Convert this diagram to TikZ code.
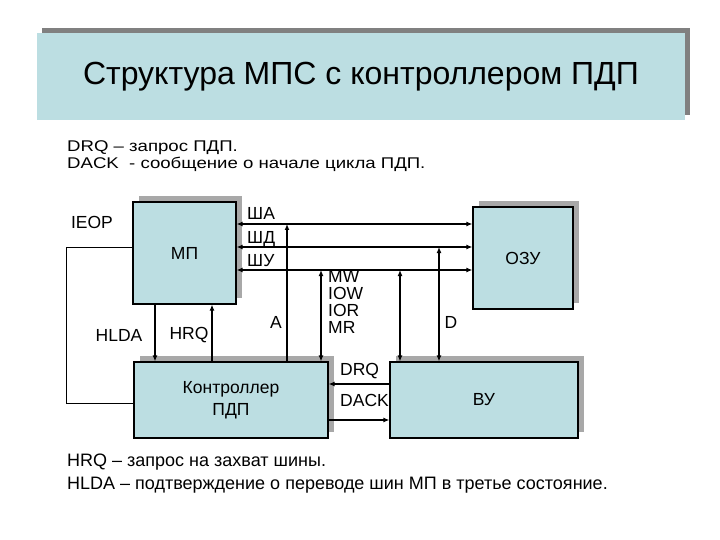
\documentclass[tikz,border=0pt]{standalone}
\usepackage{fontspec}
\setmainfont{Liberation Sans}
\newfontfamily\widefont[FakeStretch=1.2]{Liberation Sans}
\usepackage{tikz}
\usetikzlibrary{arrows.meta}
\usetikzlibrary{shadows}
\definecolor{boxblue}{HTML}{BCDEE2}
\definecolor{titleshade}{HTML}{808080}
\definecolor{boxshade}{HTML}{A8A8A8}
\tikzset{
	>={Latex[length=6pt,width=5pt]},
	titlebox/.style={fill=boxblue, minimum width=648pt, minimum height=87pt,
		general shadow={fill=titleshade, shadow xshift=5pt, shadow yshift=5pt},
		font=\fontsize{32}{36}\selectfont},
	block/.style={draw=black, line width=1.2pt, fill=boxblue,
		general shadow={fill=boxshade, shadow xshift=6pt, shadow yshift=6pt},
		font=\fontsize{17.5}{22}\selectfont, align=center},
	lbl/.style={inner sep=0pt, font=\fontsize{17.5}{17}\selectfont},
	note/.style={inner sep=0pt, anchor=west, font=\fontsize{18}{21}\selectfont},
	bus/.style={line width=1.3pt, <->},
	sig/.style={line width=1.6pt},
	wire/.style={line width=1pt}
}

\begin{document}
\begin{tikzpicture}[x=1pt, y=-1pt]
\useasboundingbox (0,0) rectangle (720,540);
\node[titlebox] (title) at (361,77) {Структура МПС с контроллером ПДП};
\node[note, font=\fontsize{15.5}{16}\widefont] (ndrq) at (67,148) {DRQ – запрос ПДП.};
\node[note, font=\fontsize{15.5}{16}\widefont] (ndack) at (67,164) {DACK\ \ - сообщение о начале цикла ПДП.};

\node[block, minimum width=103pt, minimum height=102pt] (mp) at (184.5,253) {МП};
\node[block, minimum width=100pt, minimum height=102pt] (ozu) at (523,258) {ОЗУ};
\node[block, minimum width=194pt, minimum height=76pt] (ctrl) at (231,400) {Контроллер\\ПДП};
\node[block, minimum width=188pt, minimum height=76pt] (vu) at (484,400) {ВУ};

\coordinate (sha) at (0,224);
\coordinate (shd) at (0,247);
\coordinate (shu) at (0,270);
\coordinate (xhlda) at (155,0);
\coordinate (xhrq) at (212,0);
\coordinate (xa) at (287,0);
\coordinate (xmw) at (321,0);
\coordinate (xvu) at (400,0);
\coordinate (xd) at (439,0);
\coordinate (drq) at (0,384);
\coordinate (dack) at (0,420);
\coordinate (ieop) at (66,403);

\draw[bus] (mp.east |- sha) -- (ozu.west |- sha);
\draw[bus] (mp.east |- shd) -- (ozu.west |- shd);
\draw[bus, line width=2.6pt] (mp.east |- shu) -- (ozu.west |- shu);

\draw[sig, ->] (mp.south -| xhlda) -- (ctrl.north -| xhlda);
\draw[sig, line width=1.2pt, ->] (ctrl.north -| xhrq) -- (mp.south -| xhrq);
\draw[sig, line width=1.8pt, ->] (ctrl.north -| xa) -- (sha -| xa);
\draw[sig, line width=2pt, <->] (shu -| xmw) -- (ctrl.north -| xmw);
\draw[sig, line width=2pt, <->] (shu -| xvu) -- (vu.north -| xvu);
\draw[sig, line width=1.3pt, <->] (shd -| xd) -- (vu.north -| xd);
\draw[sig, line width=1.2pt, ->] (vu.west |- drq) -- (ctrl.east |- drq);
\draw[sig, line width=1.2pt, ->] (ctrl.east |- dack) -- (vu.west |- dack);
\draw[wire] (mp.west |- shd) -| (ieop) -- (ctrl.west |- ieop);

\node[lbl, anchor=west] (lsha) at (247,213) {ША};
\node[lbl, anchor=west] (lshd) at (247,239) {ШД};
\node[lbl, anchor=west] (lshu) at (247,261) {ШУ};
\node[lbl] (lieop) at (92,222) {IEOP};
\node[lbl] (lhlda) at (119,335) {HLDA};
\node[lbl] (lhrq) at (189,335) {HRQ};
\node[lbl] (la) at (276,322) {A};
\node[lbl, anchor=north west, align=left] (lmw) at (328,270) {MW\\IOW\\IOR\\MR};
\node[lbl] (ld) at (451,322) {D};
\node[lbl, anchor=west] (ldrq) at (340,371) {DRQ};
\node[lbl, anchor=west] (ldack) at (340,400) {DACK};

\node[note] (nhrq) at (67,462) {HRQ – запрос на захват шины.};
\node[note] (nhlda) at (67,485) {HLDA – подтверждение о переводе шин МП в третье состояние.};
\end{tikzpicture}
\end{document}
